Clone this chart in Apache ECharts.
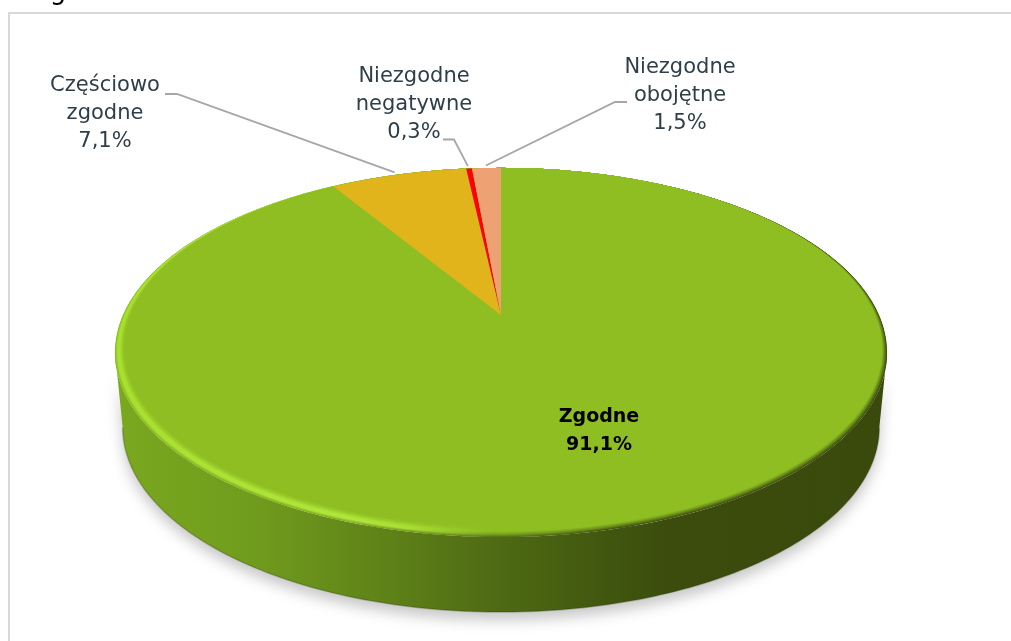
<!DOCTYPE html>
<html>
<head>
<meta charset="utf-8">
<style>
  html, body { margin: 0; padding: 0; background: #fff; }
  #main { width: 1011px; height: 641px; }
</style>
<script src="https://cdn.jsdelivr.net/npm/echarts@6/dist/echarts.min.js"></script>
</head>
<body>
<div id="main"></div>
<script>
// dane
const sliceNames = ['Zgodne', 'Częściowo\nzgodne', 'Niezgodne\nnegatywne', 'Niezgodne\nobojętne'];
const sliceValues = [91.1, 7.1, 0.3, 1.5];
const sliceTexts = ['91,1%', '7,1%', '0,3%', '1,5%'];
const sliceColors = ['#8ebe22', '#e2b41c', '#ff0000', '#eea274'];

// etykiety: srodek tekstu, poczatek i kolano linii odniesienia
const labelCenters = [[599, 431], [105, 114], [414, 105], [680, 96]];
const leaderStarts = [null, [[165, 94], [177, 94]], [[443, 139.5], [454, 139.5]], [[627, 102], [615, 102]]];

// rzut perspektywiczny tarczy
const CX = 501, CY = 315, A = 378, B = 177, K = 0.203;
const DEPTH = 75, BOTTOM_SCALE = 0.98, BEVEL = 0.02, BEVEL_LAYERS = 24;
const DEG = Math.PI / 180;

function project(u, v) {
  const den = 1 - K * v;
  return [CX + A * u / den, CY + B * v / den];
}
// punkt na krawedzi, kat w stopniach od godziny 12 zgodnie z zegarem
function edge(deg, inset, radius) {
  const r = (1 - inset) * (radius || 1);
  return project(r * Math.sin(deg * DEG), -inset - r * Math.cos(deg * DEG));
}
function arc(from, to, inset) {
  const pts = [];
  const n = Math.max(2, Math.ceil(Math.abs(to - from)));
  for (let i = 0; i <= n; i++) pts.push(edge(from + (to - from) * i / n, inset));
  return pts;
}
function bottomPoint(p) {
  return [CX + (p[0] - CX) * BOTTOM_SCALE, p[1] + DEPTH];
}

const total = sliceValues.reduce((a, b) => a + b, 0);
let acc = 0;
const sliceAngles = sliceValues.map(v => {
  const start = acc / total * 360;
  acc += v;
  return [start, acc / total * 360];
});

function hGradient(stops) {
  return new echarts.graphic.LinearGradient(CX - 386, 0, CX + 386, 0, stops, true);
}

const wallFill = hGradient([
  { offset: 0, color: '#7aa81f' },
  { offset: 0.18, color: '#709c1d' },
  { offset: 0.35, color: '#5f8218' },
  { offset: 0.49, color: '#4f6b14' },
  { offset: 0.62, color: '#42590f' },
  { offset: 0.72, color: '#3b4c0d' },
  { offset: 1, color: '#3a4a0c' }
]);

function lerpStops(f, stops) {
  return echarts.color.lerp(f, stops);
}

function renderBase() {
  const tangent = Math.acos(-K) / DEG;
  const front = arc(tangent, 360 - tangent, 0);
  const back = front.map(bottomPoint);
  const children = [{
    type: 'polygon',
    shape: { points: front.concat(back.slice().reverse()) },
    style: { fill: wallFill, shadowBlur: 14, shadowOffsetY: 8, shadowColor: 'rgba(0,0,0,0.22)' }
  }, {
    type: 'polyline',
    shape: { points: back },
    style: { fill: null, stroke: 'rgba(45,60,5,0.3)', lineWidth: 1.5 }
  }];
  // faza na krawedzi: jasna z lewej, ciemna z prawej
  for (let i = 0; i < BEVEL_LAYERS; i++) {
    const f = i / (BEVEL_LAYERS - 1);
    children.push({
      type: 'polygon',
      shape: { points: arc(0, 360, BEVEL * f) },
      style: {
        fill: hGradient([
          { offset: 0, color: lerpStops(f, ['#84b81e', '#a8e030', '#a8e030', '#98ca26', '#8ebe22']) },
          { offset: 0.3, color: lerpStops(f, ['#7ea41d', '#b0e83a', '#aee438', '#9acc2a', '#8ebe22']) },
          { offset: 0.38, color: lerpStops(f, ['#6f941a', '#aae036', '#a6dc32', '#96c826', '#8ebe22']) },
          { offset: 0.49, color: lerpStops(f, ['#56741a', '#7ba21e', '#8ebe22', '#8ebe22', '#8ebe22']) },
          { offset: 0.65, color: lerpStops(f, ['#3c4f0e', '#6a8e1a', '#8ebe22', '#8ebe22', '#8ebe22']) },
          { offset: 1, color: lerpStops(f, ['#3a4a0c', '#64861a', '#8ebe22', '#8ebe22', '#8ebe22']) }
        ])
      }
    });
  }
  return { type: 'group', children: children };
}

function renderSlice(params) {
  const i = params.dataIndex;
  const range = sliceAngles[i];
  const children = [{
    type: 'polygon',
    shape: { points: [project(0, 0)].concat(arc(range[0], range[1], BEVEL)) },
    style: { fill: sliceColors[i] }
  }];
  if (leaderStarts[i]) {
    const mid = (range[0] + range[1]) / 2;
    children.push({
      type: 'polyline',
      shape: { points: leaderStarts[i].concat([edge(mid, 0, 1.02)]) },
      style: { fill: null, stroke: '#a6a6a6', lineWidth: 1.8 }
    });
  }
  children.push({
    type: 'text',
    z2: 10,
    style: {
      x: labelCenters[i][0],
      y: labelCenters[i][1],
      text: sliceNames[i] + '\n' + sliceTexts[i],
      align: 'center',
      verticalAlign: 'middle',
      lineHeight: 28,
      font: (i === 0 ? 'bold 19px' : '21px') + ' "DejaVu Sans"',
      fill: i === 0 ? '#000000' : '#2f3f4a'
    }
  });
  return { type: 'group', children: children };
}

const myChart = echarts.init(document.getElementById('main'));
myChart.setOption({
  animation: false,
  graphic: [{
    type: 'polyline',
    silent: true,
    shape: { points: [[9, 641], [9, 13], [1011, 13]] },
    style: { fill: null, stroke: '#d9d9d9', lineWidth: 2 }
  }, {
    type: 'text',
    silent: true,
    style: { x: 58, y: -8, text: 'g', align: 'center', verticalAlign: 'middle', font: '26px "DejaVu Sans"', fill: '#000' }
  }],
  series: [{
    type: 'custom',
    coordinateSystem: 'none',
    silent: true,
    renderItem: renderBase,
    data: [total]
  }, {
    type: 'custom',
    coordinateSystem: 'none',
    silent: true,
    renderItem: renderSlice,
    data: sliceValues
  }]
});
</script>
</body>
</html>
